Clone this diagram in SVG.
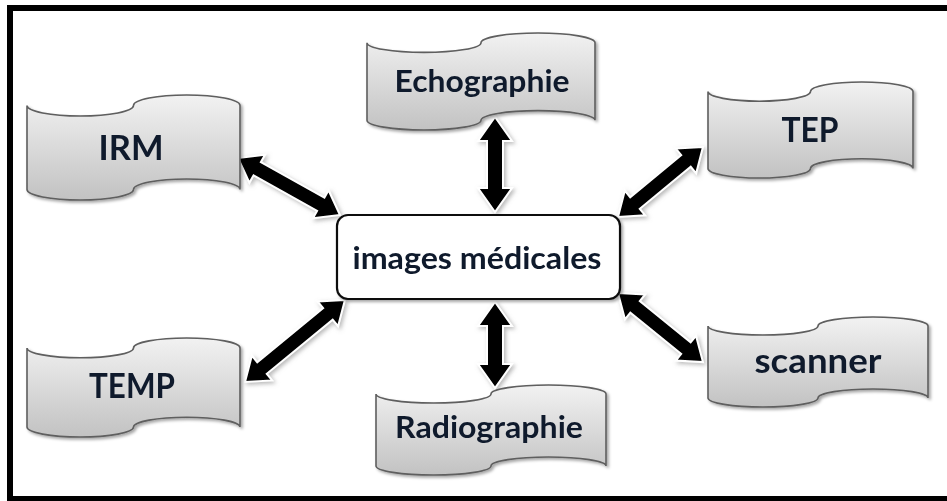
<svg xmlns="http://www.w3.org/2000/svg" width="947" height="501" viewBox="0 0 947 501">
  <defs>
    <linearGradient id="tapeFill" x1="0" y1="0" x2="0" y2="1">
      <stop offset="0" stop-color="#f2f2f2"/>
      <stop offset="1" stop-color="#c2c2c2"/>
    </linearGradient>
    <filter id="shapeShadow" x="-10%" y="-10%" width="120%" height="130%">
      <feDropShadow dx="2" dy="2" stdDeviation="1.5" flood-color="#000" flood-opacity="0.35"/>
    </filter>
    <filter id="arrowGlow" x="-20%" y="-20%" width="140%" height="140%">
      <feDropShadow dx="2" dy="2" stdDeviation="2" flood-color="#888" flood-opacity="0.6"/>
    </filter>
  </defs>
  <style>
    .tape { fill: url(#tapeFill); stroke: #5e5e5e; stroke-width: 1.6; filter: url(#shapeShadow); }
    .hub { fill: #ffffff; stroke: #111111; stroke-width: 2.2; filter: url(#shapeShadow); }
    .label { font-family: Lato, "Open Sans", "Liberation Sans", sans-serif; font-weight: bold; fill: #0f1a2c; text-anchor: middle; }
    .big { font-size: 34px; }
    .mid { font-size: 31px; }
    .arrow { fill: #000000; stroke: #ffffff; stroke-width: 2; stroke-linejoin: miter; }
  </style>

  <rect x="0" y="0" width="947" height="501" fill="#ffffff"/>
  <!-- outer frame (right side runs past the edge) -->
  <rect x="10" y="8" width="950" height="491" fill="none" stroke="#000000" stroke-width="6"/>

  <!-- connectors: double-headed block arrows -->
  <g id="connectors" filter="url(#arrowGlow)">
    <!-- IRM <-> hub -->
    <path class="arrow" transform="translate(238,158) rotate(29.2)"
          d="M0,0 L22,-16 L22,-7.5 L94.8,-7.5 L94.8,-16 L116.8,0 L94.8,16 L94.8,7.5 L22,7.5 L22,16 Z"/>
    <!-- TEMP <-> hub -->
    <path class="arrow" transform="translate(245,382) rotate(-39.4)"
          d="M0,0 L22,-16 L22,-7.5 L107.3,-7.5 L107.3,-16 L129.3,0 L107.3,16 L107.3,7.5 L22,7.5 L22,16 Z"/>
    <!-- hub <-> TEP -->
    <path class="arrow" transform="translate(618,217) rotate(-39.5)"
          d="M0,0 L22,-16 L22,-7.5 L88.1,-7.5 L88.1,-16 L110.1,0 L88.1,16 L88.1,7.5 L22,7.5 L22,16 Z"/>
    <!-- hub <-> scanner -->
    <path class="arrow" transform="translate(618,293) rotate(39.1)"
          d="M0,0 L22,-16 L22,-7.5 L87.5,-7.5 L87.5,-16 L109.5,0 L87.5,16 L87.5,7.5 L22,7.5 L22,16 Z"/>
    <!-- Echographie <-> hub -->
    <path class="arrow" transform="translate(495,117) rotate(90)"
          d="M0,0 L24,-17 L24,-8 L71,-8 L71,-17 L95,0 L71,17 L71,8 L24,8 L24,17 Z"/>
    <!-- hub <-> Radiographie -->
    <path class="arrow" transform="translate(495,302) rotate(90)"
          d="M0,0 L24,-17 L24,-8 L62,-8 L62,-17 L86,0 L62,17 L62,8 L24,8 L24,17 Z"/>
  </g>

  <!-- central hub -->
  <g id="hub">
    <rect class="hub" x="337" y="215" width="283" height="84" rx="11" ry="11"/>
    <text class="label mid" x="477" y="269" textLength="249" lengthAdjust="spacingAndGlyphs">images médicales</text>
  </g>

  <!-- punched-tape nodes -->
  <g id="irm">
    <path class="tape" d="M27,105.5 A53.25,10.5 0 0 0 133.5,105.5 A53.25,10.5 0 0 1 240,105.5 L240,189.5 A53.25,10.5 0 0 0 133.5,189.5 A53.25,10.5 0 0 1 27,189.5 Z"/>
    <text class="label big" x="131" y="160" textLength="65" lengthAdjust="spacingAndGlyphs">IRM</text>
  </g>

  <g id="echographie">
    <path class="tape" d="M367,42.7 A57,9.7 0 0 0 481,42.7 A57,9.7 0 0 1 595,42.7 L595,120.3 A57,9.7 0 0 0 481,120.3 A57,9.7 0 0 1 367,120.3 Z"/>
    <text class="label mid" x="482" y="92" textLength="175" lengthAdjust="spacingAndGlyphs">Echographie</text>
  </g>

  <g id="tep">
    <path class="tape" d="M708,91.6 A51.25,9.6 0 0 0 810.5,91.6 A51.25,9.6 0 0 1 913,91.6 L913,168.4 A51.25,9.6 0 0 0 810.5,168.4 A51.25,9.6 0 0 1 708,168.4 Z"/>
    <text class="label big" x="810" y="142" textLength="57" lengthAdjust="spacingAndGlyphs">TEP</text>
  </g>

  <g id="temp">
    <path class="tape" d="M27,347.9 A53.25,9.9 0 0 0 133.5,347.9 A53.25,9.9 0 0 1 240,347.9 L240,427.1 A53.25,9.9 0 0 0 133.5,427.1 A53.25,9.9 0 0 1 27,427.1 Z"/>
    <text class="label big" x="132" y="398" textLength="86" lengthAdjust="spacingAndGlyphs">TEMP</text>
  </g>

  <g id="scanner">
    <path class="tape" d="M708,326 A55,9 0 0 0 818,326 A55,9 0 0 1 928,326 L928,398 A55,9 0 0 0 818,398 A55,9 0 0 1 708,398 Z"/>
    <text class="label big" x="818" y="373" textLength="127" lengthAdjust="spacingAndGlyphs">scanner</text>
  </g>

  <g id="radiographie">
    <path class="tape" d="M376,394 A57.5,9 0 0 0 491,394 A57.5,9 0 0 1 606,394 L606,466 A57.5,9 0 0 0 491,466 A57.5,9 0 0 1 376,466 Z"/>
    <text class="label mid" x="489" y="438" textLength="188" lengthAdjust="spacingAndGlyphs">Radiographie</text>
  </g>
</svg>
